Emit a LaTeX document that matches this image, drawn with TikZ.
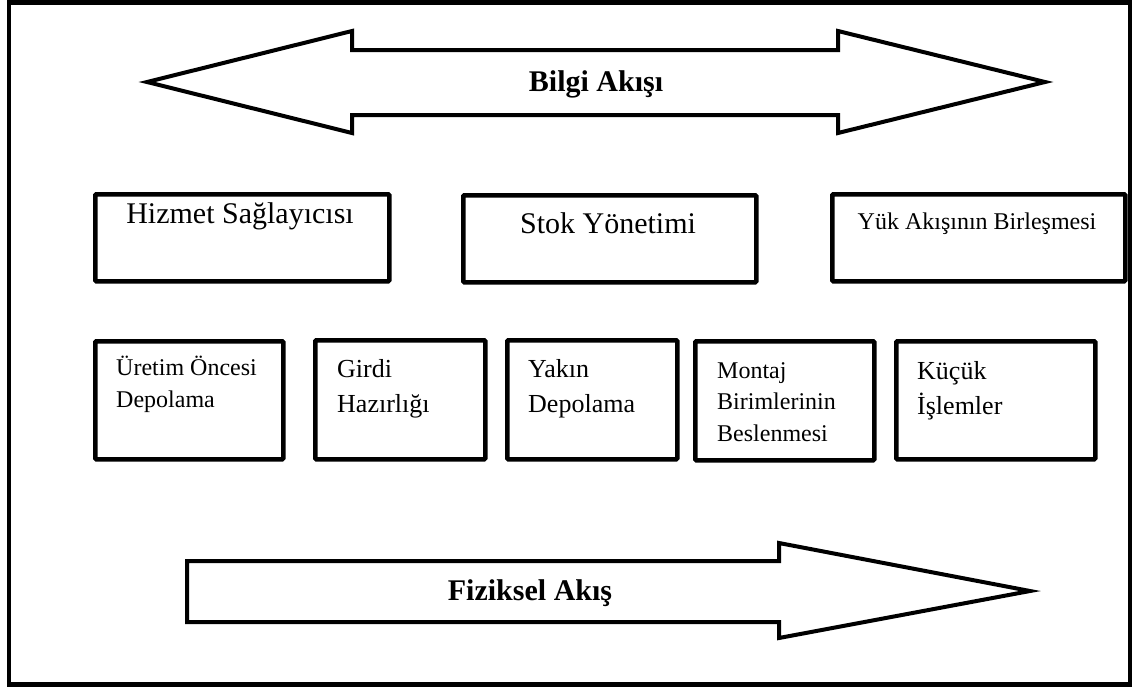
\documentclass[tikz,border=0pt]{standalone}
\usepackage{fontspec}
\setmainfont{Liberation Serif}
\begin{document}
\begin{tikzpicture}[x=1pt,y=-1pt,
  frameline/.style={line width=4.5pt},
  arrowshape/.style={draw, line width=4pt, line join=miter, fill=white},
  boxstyle/.style={draw, line width=4.5pt, rounded corners=1pt, inner sep=0pt, anchor=north west},
  toptext/.style={inner sep=0pt, anchor=base},
  sidetext/.style={inner sep=0pt, anchor=north west, align=left},
  flowtext/.style={inner sep=0pt, anchor=base, font=\rmfamily\bfseries\fontsize{30}{32}\selectfont}]
\useasboundingbox (0,0) rectangle (1135,689);
% outer frame
\draw[frameline] (9,2.5) rectangle (1130,684.5);

% information flow (double arrow)
\draw[arrowshape] (147,82) -- (352,31) -- (352,50) -- (838,50) -- (838,31) -- (1045,82)
  -- (838,133) -- (838,115) -- (352,115) -- (352,133) -- cycle;
\node[flowtext] (bilgi) at (596,91) {Bilgi Akışı};

% upper row
\node[boxstyle, minimum width=294pt, minimum height=87pt] (hizmet) at (93,192) {};
\node[boxstyle, minimum width=293pt, minimum height=87pt] (stok) at (461,193) {};
\node[boxstyle, minimum width=293pt, minimum height=87pt] (yuk) at (830,192) {};
\node[toptext, font=\rmfamily\fontsize{30}{32}\selectfont] (thizmet) at (240,223) {Hizmet Sağlayıcısı};
\node[toptext, font=\rmfamily\fontsize{30}{32}\selectfont] (tstok) at (608,233) {Stok Yönetimi};
\node[toptext, font=\rmfamily\fontsize{24}{28}\selectfont] (tyuk) at (977,229) {Yük Akışının Birleşmesi};

% lower row
\node[boxstyle, minimum width=188pt, minimum height=118pt] (uretim) at (93,339) {};
\node[boxstyle, minimum width=170pt, minimum height=119pt] (girdi) at (313,338) {};
\node[boxstyle, minimum width=170pt, minimum height=119pt] (yakin) at (505,338) {};
\node[boxstyle, minimum width=179pt, minimum height=119pt] (montaj) at (693,339) {};
\node[boxstyle, minimum width=199pt, minimum height=118pt] (kucuk) at (894,339) {};

\node[sidetext, font=\rmfamily\fontsize{24}{32}\selectfont] (turetim) at (116,351)
  {\rule{0pt}{24pt}Üretim Öncesi\\Depolama};
\node[sidetext, font=\rmfamily\fontsize{26}{35}\selectfont] (tgirdi) at (337,351)
  {\rule{0pt}{26pt}Girdi\\Hazırlığı};
\node[sidetext, font=\rmfamily\fontsize{26}{35}\selectfont] (tyakin) at (528,351)
  {\rule{0pt}{26pt}Yakın\\Depolama};
\node[sidetext, font=\rmfamily\fontsize{24}{31.5}\selectfont] (tmontaj) at (717,354)
  {\rule{0pt}{24pt}Montaj\\Birimlerinin\\Beslenmesi};
\node[sidetext, font=\rmfamily\fontsize{26}{35}\selectfont] (tkucuk) at (917,353)
  {\rule{0pt}{26pt}Küçük\\İşlemler};

% physical flow (single arrow)
\draw[arrowshape] (187,561) -- (779,561) -- (779,543) -- (1030,591) -- (779,638)
  -- (779,622) -- (187,622) -- cycle;
\node[flowtext] (fiziksel) at (530,600) {Fiziksel Akış};
\end{tikzpicture}
\end{document}
